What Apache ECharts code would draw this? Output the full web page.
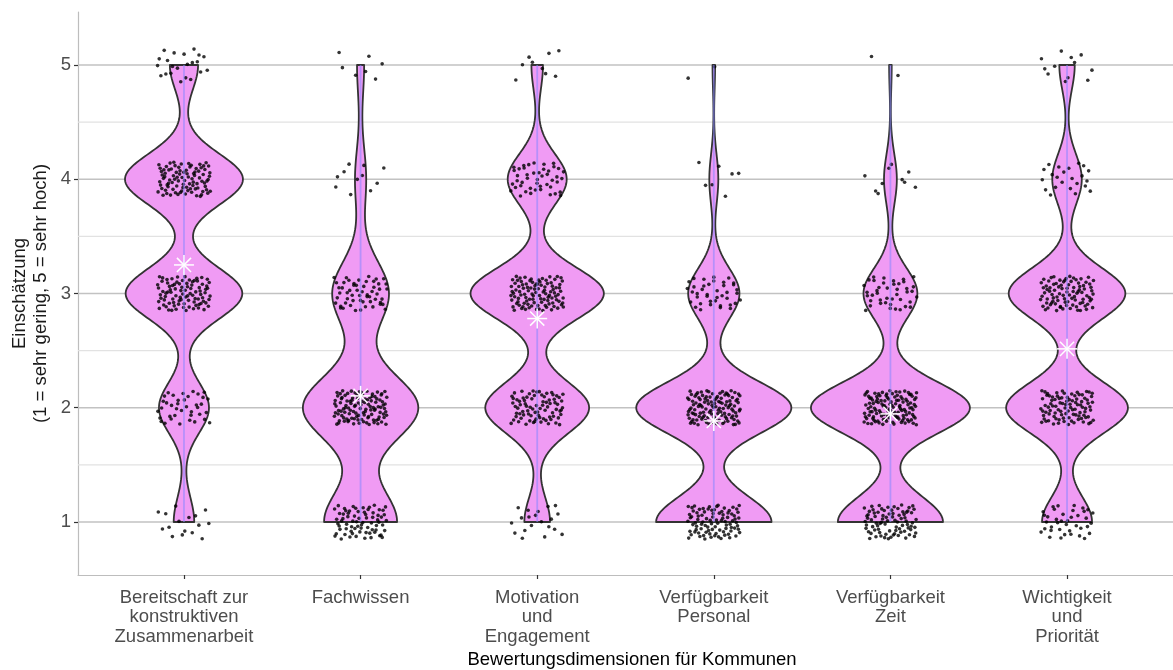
<!DOCTYPE html>
<html>
<head>
<meta charset="utf-8">
<script src="https://cdn.jsdelivr.net/npm/echarts@6/dist/echarts.min.js"></script>
<style>
  html, body { margin: 0; padding: 0; background: #fff; }
  #chart { width: 1173px; height: 670px; }
</style>
</head>
<body>
<div id="chart"></div>
<script>
const categories = [
  'Bereitschaft zur\nkonstruktiven\nZusammenarbeit',
  'Fachwissen',
  'Motivation\nund\nEngagement',
  'Verfügbarkeit\nPersonal',
  'Verfügbarkeit\nZeit',
  'Wichtigkeit\nund\nPriorität'
];
const levels = [1, 2, 3, 4, 5];
// answers per rating 1..5
const countsBereitschaft = [16, 39, 91, 92, 22];
const countsFachwissen = [72, 114, 56, 11, 7];
const countsMotivation = [20, 81, 104, 46, 9];
const countsPersonal = [90, 121, 40, 7, 2];
const countsZeit = [82, 124, 42, 10, 2];
const countsWichtigkeit = [39, 95, 91, 23, 12];
const yTicks = [1, 2, 3, 4, 5];
const yMinorTicks = [1.5, 2.5, 3.5, 4.5];

const groups = [countsBereitschaft, countsFachwissen, countsMotivation, countsPersonal, countsZeit, countsWichtigkeit];
const font = 'Liberation Sans, Arial, sans-serif';

// gaussian kde with R's nrd0 bandwidth, trimmed to data range (like geom_violin)
const stats = groups.map((counts) => {
  const vals = [];
  counts.forEach((c, k) => { for (let i = 0; i < c; i++) vals.push(levels[k]); });
  const n = vals.length;
  const mean = vals.reduce((a, b) => a + b, 0) / n;
  const sd = Math.sqrt(vals.reduce((a, b) => a + (b - mean) ** 2, 0) / (n - 1));
  const q = (p) => {
    const h = (n - 1) * p, lo = Math.floor(h);
    return vals[lo] + (h - lo) * (vals[Math.min(lo + 1, n - 1)] - vals[lo]);
  };
  const bw = 0.9 * Math.min(sd, (q(0.75) - q(0.25)) / 1.34) * Math.pow(n, -0.2);
  const lo = vals[0], hi = vals[n - 1];
  const dens = [];
  for (let j = 0; j < 240; j++) {
    const y = lo + (hi - lo) * j / 239;
    let d = 0;
    counts.forEach((c, k) => { d += c * Math.exp(-0.5 * ((y - levels[k]) / bw) ** 2); });
    dens.push([y, d / (n * bw * Math.sqrt(2 * Math.PI))]);
  }
  return { mean, lo, hi, dens };
});
const maxDens = Math.max(...stats.map((s) => Math.max(...s.dens.map((d) => d[1]))));

// jitter offsets (width 0.15, height 0.15) from a fixed halton sequence
const halton = (i, b) => {
  let f = 1, r = 0;
  while (i > 0) { f /= b; r += f * (i % b); i = Math.floor(i / b); }
  return r;
};
const points = [];
let t = 0;
groups.forEach((counts, g) => {
  counts.forEach((c, k) => {
    for (let i = 0; i < c; i++) {
      t++;
      const u = halton(t + 17, 2);
      const v = halton(t + 17, 3);
      points.push([g + 1 + (2 * u - 1) * 0.15, levels[k] + (2 * v - 1) * 0.15]);
    }
  });
});

const chart = echarts.init(document.getElementById('chart'));
chart.setOption({
  animation: false,
  textStyle: { fontFamily: font },
  grid: { left: 78, right: -10, top: 12, bottom: 95 },
  xAxis: {
    type: 'value',
    min: 0.4,
    max: 6.6,
    splitLine: { show: false },
    axisLine: { show: true, lineStyle: { color: '#bdbdbd', width: 1.2 } },
    axisTick: { show: true, customValues: [1, 2, 3, 4, 5, 6], length: 4, lineStyle: { color: '#333', width: 1.2 } },
    axisLabel: {
      customValues: [1, 2, 3, 4, 5, 6],
      formatter: (v) => categories[Math.round(v) - 1],
      color: '#4d4d4d',
      fontSize: 18.5,
      lineHeight: 19.5,
      margin: 13,
      fontFamily: font
    }
  },
  yAxis: {
    type: 'value',
    min: 0.536,
    max: 5.464,
    splitLine: { show: false },
    axisLine: { show: true, lineStyle: { color: '#bdbdbd', width: 1.2 } },
    axisTick: { show: true, customValues: yTicks, length: 4, lineStyle: { color: '#333', width: 1.2 } },
    axisLabel: { customValues: yTicks, color: '#4d4d4d', fontSize: 18.5, margin: 7, fontFamily: font }
  },
  graphic: [
    {
      type: 'text', x: 30, y: 293.5, rotation: Math.PI / 2,
      style: {
        text: 'Einschätzung\n(1 = sehr gering, 5 = sehr hoch)',
        fill: '#1a1a1a', font: '18.5px ' + font, lineHeight: 21,
        textAlign: 'center', textVerticalAlign: 'middle'
      }
    },
    {
      type: 'text', x: 632, y: 660,
      style: {
        text: 'Bewertungsdimensionen für Kommunen',
        fill: '#000', font: '18.5px ' + font,
        textAlign: 'center', textVerticalAlign: 'middle'
      }
    }
  ],
  series: [
    {
      // horizontal grid lines
      type: 'custom',
      z: 1,
      silent: true,
      data: yTicks.map((v) => [v, 1]).concat(yMinorTicks.map((v) => [v, 0])),
      renderItem(params, api) {
        const cs = params.coordSys;
        const y = api.coord([1, api.value(0)])[1];
        const major = api.value(1) === 1;
        return {
          type: 'line',
          shape: { x1: cs.x, y1: y, x2: cs.x + cs.width, y2: y },
          style: { stroke: major ? '#c2c2c2' : '#e2e2e2', lineWidth: major ? 1.4 : 1.1 }
        };
      }
    },
    {
      type: 'custom',
      z: 2,
      silent: true,
      data: stats.map((s, g) => [g + 1, s.mean]),
      renderItem(params, api) {
        const g = params.dataIndex;
        const x = g + 1;
        const d = stats[g].dens;
        const right = d.map(([y, v]) => api.coord([x + v / maxDens * 0.45, y]));
        const left = d.slice().reverse().map(([y, v]) => api.coord([x - v / maxDens * 0.45, y]));
        return {
          type: 'polygon',
          shape: { points: right.concat(left) },
          style: { fill: '#f09bf4', stroke: '#333333', lineWidth: 1.8, lineJoin: 'round' }
        };
      }
    },
    {
      type: 'scatter',
      z: 3,
      silent: true,
      symbolSize: 3.6,
      itemStyle: { color: '#000' },
      data: points
    },
    {
      // min-max line through each violin
      type: 'custom',
      z: 4,
      silent: true,
      data: stats.map((s, g) => [g + 1, s.lo, s.hi]),
      renderItem(params, api) {
        const a = api.coord([api.value(0), api.value(1)]);
        const b = api.coord([api.value(0), api.value(2)]);
        return {
          type: 'line',
          shape: { x1: a[0], y1: a[1], x2: b[0], y2: b[1] },
          style: { stroke: 'rgba(135,135,255,0.55)', lineWidth: 1.8 }
        };
      }
    },
    {
      // mean as white asterisk
      type: 'custom',
      z: 5,
      silent: true,
      data: stats.map((s, g) => [g + 1, s.mean]),
      renderItem(params, api) {
        const c = api.coord([api.value(0), api.value(1)]);
        const r = 10, k = r * 0.7071;
        const seg = (dx, dy) => ({
          type: 'line',
          shape: { x1: c[0] - dx, y1: c[1] - dy, x2: c[0] + dx, y2: c[1] + dy },
          style: { stroke: '#ffffff', lineWidth: 1.5 }
        });
        return { type: 'group', children: [seg(r, 0), seg(0, r), seg(k, k), seg(k, -k)] };
      }
    }
  ]
});
</script>
</body>
</html>
